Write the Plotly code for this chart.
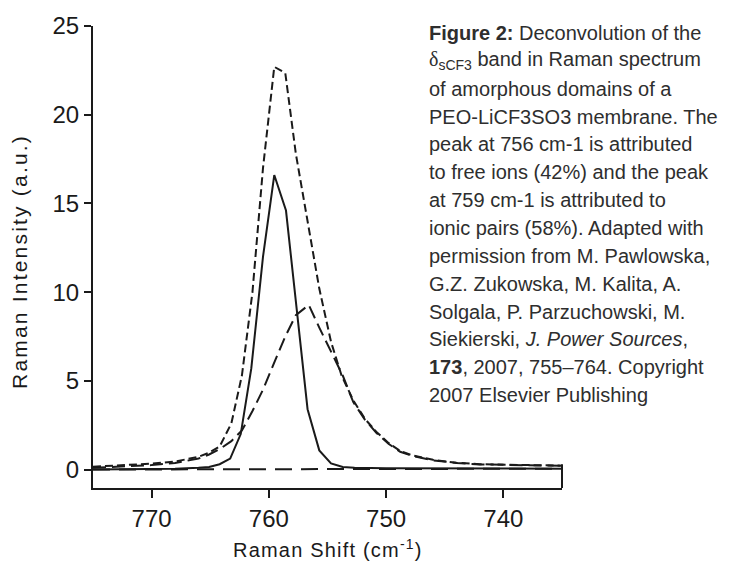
import plotly.graph_objects as go

# ---- data ----
# total measured band (short dashes)
total_x = [775, 772, 770, 768, 766, 765.1, 764.2, 763.2, 762.3, 761.4, 760.5, 759.54, 758.6,
           757.7, 756.7, 755.7, 754.7, 753.8, 752.8, 751.8, 750.8, 749.8, 748.8, 747.8,
           746, 744, 742, 739, 735]
total_y = [0.16, 0.25, 0.33, 0.45, 0.72, 0.95, 1.3, 2.6, 5.3, 10.0, 17.0, 22.7, 22.35,
           17.8, 14.0, 10.2, 7.2, 5.3, 3.9, 2.85, 2.1, 1.5, 1.05, 0.8,
           0.55, 0.38, 0.3, 0.25, 0.22]

# ionic pairs, 759 cm-1 (solid)
pair_x = [775, 771, 768, 766, 765.1, 764.2, 763.3, 762.4, 761.5, 760.5, 759.54, 758.54,
          757.6, 756.7, 755.7, 754.7, 753.7, 752.7, 750, 745, 740, 735]
pair_y = [0.0, 0.02, 0.05, 0.1, 0.15, 0.3, 0.62, 2.0, 5.7, 12.0, 16.6, 14.6,
          8.8, 3.4, 1.08, 0.35, 0.15, 0.1, 0.07, 0.06, 0.05, 0.05]

# free ions, 756 cm-1 (long dashes)
free_x = [775, 772, 770, 768, 766, 765.1, 764.2, 763.2, 762.3, 761.4, 760.5, 759.5, 758.6,
          757.7, 756.6, 755.7, 754.7, 753.7, 752.8, 751.8, 750.8, 749.8, 748.8, 747.8,
          746, 744, 742, 739, 735]
free_y = [0.1, 0.18, 0.25, 0.37, 0.62, 0.85, 1.15, 1.6, 2.2, 3.3, 4.5, 6.1, 7.5,
          8.7, 9.28, 8.0, 6.6, 5.3, 3.8, 2.8, 2.05, 1.45, 1.0, 0.78,
          0.52, 0.37, 0.29, 0.24, 0.21]

# baseline (long dashes)
base_x = [775, 735]
base_y = [0.0, 0.05]

x_ticks = [770, 760, 750, 740]
y_ticks = [0, 5, 10, 15, 20, 25]

caption_lines = [
    "<b>Figure 2:</b> Deconvolution of the",
    "<span style=\"font-family:'Liberation Serif'\">δ</span><sub>sCF3</sub> band in Raman spectrum",
    "of amorphous domains of a",
    "PEO-LiCF3SO3 membrane. The",
    "peak at 756 cm-1 is attributed",
    "to free ions (42%) and the peak",
    "at 759 cm-1 is attributed to",
    "ionic pairs (58%). Adapted with",
    "permission from M. Pawlowska,",
    "G.Z. Zukowska, M. Kalita, A.",
    "Solgala, P. Parzuchowski, M.",
    "Siekierski, <i>J. Power Sources</i>,",
    "<b>173</b>, 2007, 755–764. Copyright",
    "2007 Elsevier Publishing",
]

INK = "#1a1a1a"

fig = go.Figure()
fig.add_trace(go.Scatter(x=base_x, y=base_y, mode="lines",
                         line=dict(color=INK, width=2, dash="17px,9px"), hoverinfo="skip"))
fig.add_trace(go.Scatter(x=free_x, y=free_y, mode="lines",
                         line=dict(color=INK, width=2, dash="13px,6px"), hoverinfo="skip"))
fig.add_trace(go.Scatter(x=pair_x, y=pair_y, mode="lines",
                         line=dict(color=INK, width=2), hoverinfo="skip"))
fig.add_trace(go.Scatter(x=total_x, y=total_y, mode="lines",
                         line=dict(color=INK, width=2, dash="8px,4px"), hoverinfo="skip"))

# geometry of plot area in pixels
L, R, T, B = 93, 562, 22, 488
W, H = 730, 561


def px_x(p):
    return (p - L) / (R - L)


def px_y(p):
    return (B - p) / (B - T)


fig.update_layout(
    width=W, height=H,
    margin=dict(l=L, r=W - R, t=T, b=H - B),
    paper_bgcolor="white", plot_bgcolor="white",
    showlegend=False,
    font=dict(family="Liberation Sans, Arial, sans-serif", color=INK),
    xaxis=dict(range=[775, 735], tickvals=x_ticks, ticktext=[str(v) for v in x_ticks],
               showgrid=False, zeroline=False, showline=True, linecolor=INK, linewidth=2,
               ticks="outside", ticklen=8, tickwidth=1.5, tickcolor=INK,
               tickfont=dict(size=24, color=INK), fixedrange=True),
    yaxis=dict(range=[-1.04, 25], tickvals=y_ticks, ticktext=[str(v) for v in y_ticks],
               showgrid=False, zeroline=False, showline=True, linecolor=INK, linewidth=2,
               ticks="outside", ticklen=7, tickwidth=1.5, tickcolor=INK,
               tickfont=dict(size=24, color=INK), fixedrange=True),
)

# short right frame segment at the bottom-right corner
fig.add_shape(type="line", xref="paper", yref="y", x0=1, x1=1, y0=-1.04, y1=0.3,
              line=dict(color=INK, width=2))

# axis titles
fig.add_annotation(text="<span style='letter-spacing:1.2px'>Raman Shift (cm<sup>-1</sup>)</span>",
                   xref="paper", yref="paper", x=0.5, y=px_y(549),
                   xanchor="center", yanchor="middle", showarrow=False,
                   font=dict(size=20, color=INK))
fig.add_annotation(text="<span style='letter-spacing:2.2px'>Raman Intensity (a.u.)</span>",
                   xref="paper", yref="paper", x=px_x(20), y=px_y(260),
                   xanchor="center", yanchor="middle", textangle=-90, showarrow=False,
                   font=dict(size=21, color=INK))

# caption
for i, line in enumerate(caption_lines):
    fig.add_annotation(text=line, xref="paper", yref="paper",
                       x=px_x(427), y=px_y(29 + i * 28.1),
                       xanchor="left", yanchor="middle", align="left", showarrow=False,
                       font=dict(size=20, color="#2e2e2e"))

fig.write_html("out.html", config={"displayModeBar": False},
               post_script="document.body.style.margin='0';")
